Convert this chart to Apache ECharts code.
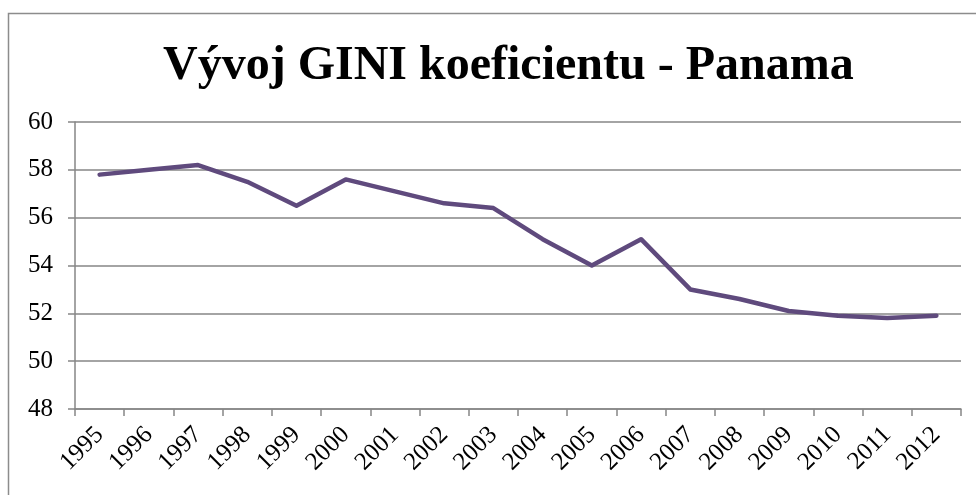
<!DOCTYPE html>
<html><head><meta charset="utf-8">
<script src="https://cdn.jsdelivr.net/npm/echarts@6/dist/echarts.min.js"></script>
<style>html,body{margin:0;padding:0;background:#fff}#c{width:976px;height:495px}</style>
</head><body><div id="c"></div>
<script>
var titleText = 'Vývoj GINI koeficientu - Panama';
var years = ['1995','1996','1997','1998','1999','2000','2001','2002','2003','2004','2005','2006','2007','2008','2009','2010','2011','2012'];
var gini = [57.8, 58.0, 58.2, 57.5, 56.5, 57.6, 57.1, 56.6, 56.4, 55.1, 54.0, 55.1, 53.0, 52.6, 52.1, 51.9, 51.8, 51.9];
var yMin = 48, yMax = 60, yStep = 2;

var chart = echarts.init(document.getElementById('c'));
chart.setOption({
  animation: false,
  backgroundColor: '#fff',
  graphic: [{
    type: 'rect', shape: {x: 8.5, y: 13.5, width: 1000, height: 1000},
    style: {fill: 'none', stroke: '#8c8c8c', lineWidth: 1.5}, silent: true
  }],
  title: {
    text: titleText, left: 158, top: 38,
    textStyle: {fontFamily: 'Liberation Serif', fontWeight: 'bold', fontSize: 48, color: '#000'}
  },
  grid: {left: 75, right: 15, top: 122, bottom: 86},
  xAxis: {
    type: 'category', data: years, boundaryGap: true,
    axisLine: {lineStyle: {color: '#868686', width: 1.5}},
    axisTick: {show: true, length: 7, lineStyle: {color: '#868686', width: 1.5}},
    axisLabel: {rotate: 45, fontFamily: 'Liberation Serif', fontSize: 25, color: '#000', margin: 22, interval: 0},
    splitLine: {show: false}
  },
  yAxis: {
    type: 'value', min: yMin, max: yMax, interval: yStep,
    axisLine: {show: true, lineStyle: {color: '#868686', width: 1.5}},
    axisTick: {show: true, length: 7, lineStyle: {color: '#868686', width: 1.5}},
    axisLabel: {fontFamily: 'Liberation Serif', fontSize: 25, color: '#000', margin: 22},
    splitLine: {show: true, lineStyle: {color: '#868686', width: 1.5}}
  },
  series: [{
    type: 'line', data: gini, symbol: 'none',
    lineStyle: {color: '#5f4a7d', width: 4.5, cap: 'round', join: 'round'}
  }]
});
</script></body></html>
